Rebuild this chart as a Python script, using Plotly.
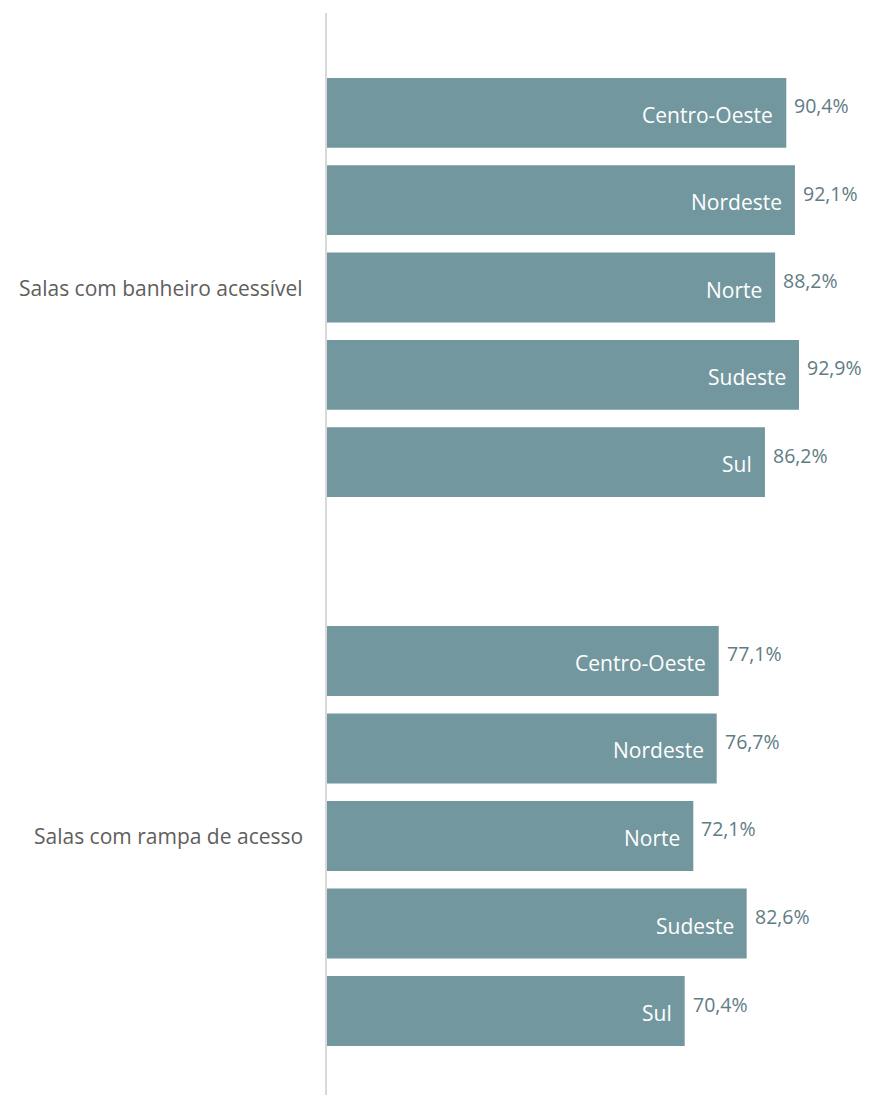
import plotly.graph_objects as go
from plotly.subplots import make_subplots

# ── DATA ────────────────────────────────────────────────────────────────
GROUPS = ['Salas com banheiro acessível', 'Salas com rampa de acesso']
REGIONS = ['Centro-Oeste', 'Nordeste', 'Norte', 'Sudeste', 'Sul']
BANHEIRO = [90.4, 92.1, 88.2, 92.9, 86.2]
RAMPA = [77.1, 76.7, 72.1, 82.6, 70.4]

BAR_COLOR = '#73979e'
VALUE_COLOR = '#5f7c84'
LABEL_COLOR = '#605e5c'
FONT = 'Open Sans'
FS = 21


def pct(v):
    return f"{v:.1f}".replace('.', ',') + '%'


# page body adds an 8px margin, so the figure is sized to fit inside it
fig = make_subplots(rows=2, cols=1, shared_xaxes=True, vertical_spacing=0,
                    row_heights=[545, 537])

# category padding (top, bottom) per group, in category slots
pads = [(1.143, 1.097), (1.177, 0.96)]

for i, (group, values) in enumerate(zip(GROUPS, [BANHEIRO, RAMPA])):
    row = i + 1
    fig.add_trace(
        go.Bar(
            x=values, y=REGIONS, orientation='h',
            marker=dict(color=BAR_COLOR, line=dict(width=0)),
            width=0.8, hoverinfo='skip', showlegend=False,
        ),
        row=row, col=1
    )
    axis_n = '' if row == 1 else str(row)
    for reg, v in zip(REGIONS, values):
        # category name inside the bar end
        fig.add_annotation(
            x=v, y=reg, xref=f'x{axis_n}', yref=f'y{axis_n}',
            text=reg, showarrow=False, xanchor='right', xshift=-11, yshift=-2,
            font=dict(family=FONT, size=FS, color='white'),
        )
        # value just outside the bar
        fig.add_annotation(
            x=v, y=reg, xref=f'x{axis_n}', yref=f'y{axis_n}',
            text=pct(v), showarrow=False, xanchor='left', xshift=6, yshift=7,
            font=dict(family=FONT, size=19.5, color=VALUE_COLOR),
        )
    # group label left of the axis
    fig.add_annotation(
        x=0, y=REGIONS[2], xref='paper', yref=f'y{axis_n}',
        text=group, showarrow=False, xanchor='right', xshift=-22,
        font=dict(family=FONT, size=FS, color=LABEL_COLOR),
    )
    top, bottom = pads[i]
    fig.update_yaxes(
        type='category', categoryorder='array', categoryarray=REGIONS,
        range=[len(REGIONS) - 1 + bottom, -top],
        showticklabels=False, showgrid=False, zeroline=False,
        showline=True, linecolor='#d9d9d9', linewidth=2,
        row=row, col=1
    )

fig.update_xaxes(range=[0, 105.3], visible=False, showgrid=False)

fig.update_layout(
    width=854, height=1087,
    margin=dict(l=319, r=0, t=5, b=0),
    paper_bgcolor='white', plot_bgcolor='white',
    font=dict(family=FONT),
)

fig.write_html('out.html')
